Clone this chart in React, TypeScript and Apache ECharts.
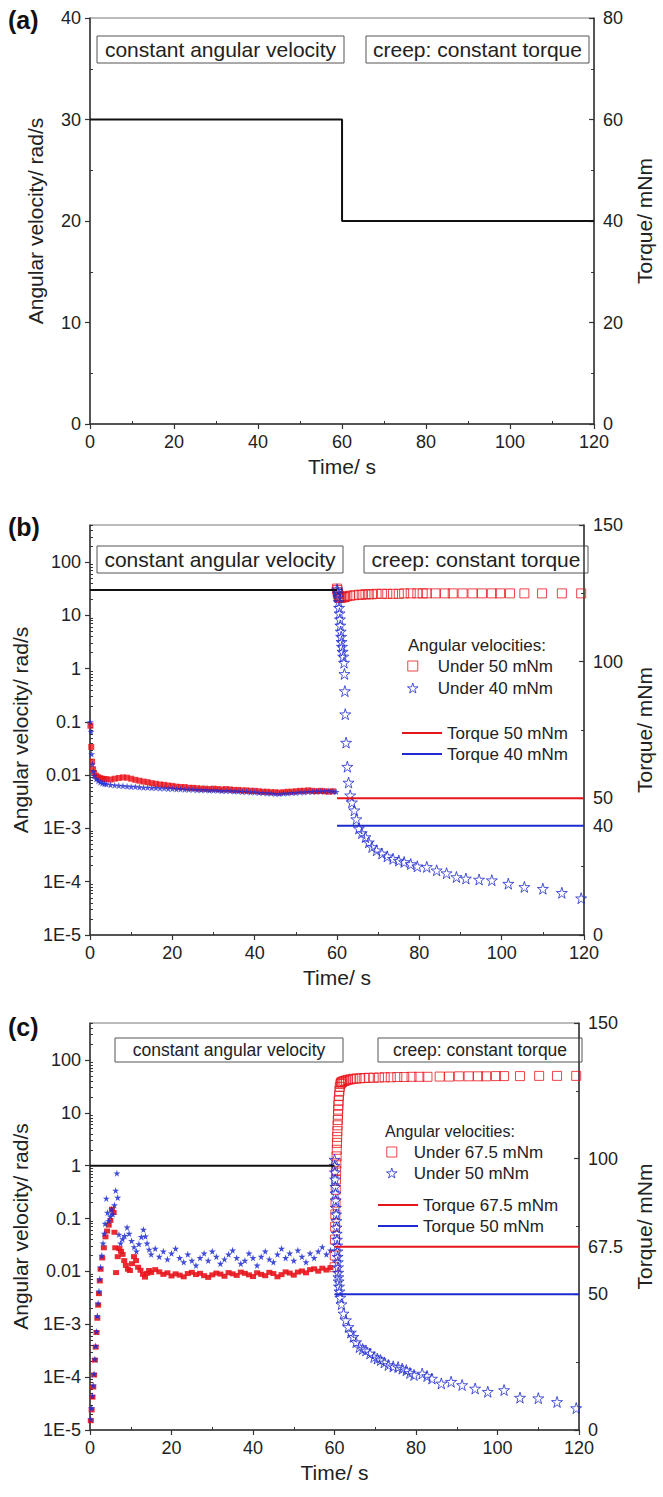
import React, { useEffect, useRef } from 'react';
import * as echarts from 'echarts';

const FONT = '"Liberation Sans", Arial, sans-serif';
const RED = '#e8141c';
const BLUE = '#1f2bd1';
const INK = '#222';
const STAR = 'path://M50,0L61,35L98,35L68,57L79,91L50,70L21,91L32,57L2,35L39,35Z';
const SQUARE = 'path://M0,0L10,0L10,10L0,10Z';

// ---------- Panel (a) ----------
const stepA: [number, number][] = [[0, 30], [60, 30], [60, 20], [120, 20]];

// ---------- Panel (b) ----------
const velocityLineB: [number, number][] = [[0, 30], [60, 30]];
const torque50B: [number, number][] = [[60, 50], [120, 50]];
const torque40B: [number, number][] = [[60, 40], [120, 40]];
const phase1RedB: [number, number][] = [
  [0.1, 0.085], [0.3, 0.034], [0.5, 0.018], [0.75, 0.013], [1, 0.011], [1.5, 0.0098], [2, 0.0092], [2.5, 0.0088],
  [3, 0.0086], [3.5, 0.0085], [4, 0.0084], [5, 0.0083], [6, 0.0086], [7, 0.0089], [8, 0.0091], [9, 0.009],
  [10, 0.0086], [11, 0.0082], [12, 0.0079], [13, 0.0076], [14, 0.0074], [15, 0.0071], [16, 0.0069], [17, 0.0067],
  [18, 0.0066], [19, 0.0064], [20, 0.0063], [21, 0.0061], [22, 0.006], [23, 0.006], [24, 0.0058], [25, 0.0058],
  [26, 0.0057], [27, 0.0056], [28, 0.0056], [29, 0.0055], [30, 0.0056], [31, 0.0055], [32, 0.0054], [33, 0.0055],
  [34, 0.0054], [35, 0.0053], [36, 0.0053], [37, 0.0052], [38, 0.0052], [39, 0.0051], [40, 0.0051], [41, 0.005],
  [42, 0.0049], [43, 0.0049], [44, 0.0048], [45, 0.0048], [46, 0.0047], [47, 0.0048], [48, 0.0049], [49, 0.0049],
  [50, 0.005], [51, 0.0051], [52, 0.0051], [53, 0.0052], [54, 0.0051], [55, 0.005], [56, 0.0051], [57, 0.005],
  [58, 0.0049], [59, 0.005],
];
const phase1BlueB: [number, number][] = [
  [0.1, 0.1], [0.25, 0.066], [0.4, 0.025], [0.6, 0.016], [0.8, 0.012], [1, 0.0098], [1.5, 0.0085], [2, 0.0078],
  [2.5, 0.0074], [3, 0.0071], [3.5, 0.0069], [4, 0.0068], [5, 0.0066], [6, 0.0065], [7, 0.0064], [8, 0.0063],
  [9, 0.0062], [10, 0.0061], [11, 0.0061], [12, 0.006], [13, 0.0059], [14, 0.0059], [15, 0.0058], [16, 0.0058],
  [17, 0.0057], [18, 0.0057], [19, 0.0056], [20, 0.0056], [21, 0.0055], [22, 0.0055], [23, 0.0054], [24, 0.0054],
  [25, 0.0054], [26, 0.0053], [27, 0.0053], [28, 0.0053], [29, 0.0052], [30, 0.0052], [31, 0.0052], [32, 0.0051],
  [33, 0.0051], [34, 0.0051], [35, 0.005], [36, 0.005], [37, 0.0049], [38, 0.0049], [39, 0.0048], [40, 0.0048],
  [41, 0.0047], [42, 0.0047], [43, 0.0046], [44, 0.0046], [45, 0.0045], [46, 0.0045], [47, 0.0046], [48, 0.0046],
  [49, 0.0047], [50, 0.0047], [51, 0.0048], [52, 0.0048], [53, 0.0049], [54, 0.0049], [55, 0.005], [56, 0.005],
  [57, 0.005], [58, 0.0051], [59, 0.005], [59.8, 0.0049],
];
const creepRedB: [number, number][] = [
  [60.0, 32], [60.1, 30], [60.2, 27], [60.3, 25], [60.4, 23], [60.5, 22], [60.7, 21.5], [61.0, 21.5], [61.35, 22],
  [61.7, 22], [62.0, 22.5], [62.5, 23], [63.2, 23.5], [64.2, 24], [65.3, 24.5], [66.0, 24.5], [66.9, 25], [67.7, 25],
  [68.5, 25], [69.6, 25.5], [70.9, 25.5], [72.2, 25.5], [73.6, 25.5], [75.0, 25.5], [76.3, 26], [77.9, 26], [79.5, 26],
  [80.8, 26], [81.8, 26], [83.9, 26], [86.2, 26], [88.1, 26], [90.5, 26], [92.9, 26], [95.2, 26], [97.6, 26],
  [99.6, 26], [102.0, 26], [105.5, 26], [109.8, 26], [114.6, 26], [119.3, 26],
];
const creepBlueB: [number, number][] = [
  [60.0, 31], [60.1, 29], [60.2, 26], [60.3, 22], [60.4, 18], [60.5, 14], [60.6, 11], [60.7, 8.5], [60.8, 6.5],
  [60.9, 5], [61.0, 4], [61.1, 3.2], [61.2, 2.6], [61.35, 2.1], [61.5, 1.7], [61.7, 1.3], [61.8, 0.8], [61.9, 0.38],
  [62.0, 0.14], [62.2, 0.041], [62.5, 0.0145], [62.8, 0.0073], [63.2, 0.0042], [63.6, 0.0031], [64.2, 0.0022],
  [64.7, 0.0015], [65.3, 0.001], [66.0, 8.2e-4], [66.9, 6.9e-4], [67.7, 5.5e-4], [68.5, 4.5e-4], [69.6, 3.9e-4],
  [70.9, 3.4e-4], [72.2, 3.0e-4], [73.6, 2.7e-4], [75.0, 2.5e-4], [76.3, 2.35e-4], [77.9, 2.15e-4], [79.5, 1.95e-4],
  [81.8, 1.9e-4], [84.2, 1.64e-4], [86.6, 1.45e-4], [89.0, 1.23e-4], [91.3, 1.15e-4], [94.5, 1.1e-4], [97.6, 1.07e-4],
  [101.6, 9.2e-5], [105.5, 8.0e-5], [110.0, 7.4e-5], [114.6, 6.2e-5], [119.3, 4.9e-5],
];

// ---------- Panel (c) ----------
const velocityLineC: [number, number][] = [[0, 1], [60, 1]];
const torque675C: [number, number][] = [[60, 67.5], [120, 67.5]];
const torque50C: [number, number][] = [[60, 50], [120, 50]];
const phase1RedC: [number, number][] = [
  [0.2, 1.5e-5], [0.4, 2.4e-5], [0.6, 4.2e-5], [0.8, 6.5e-5], [1.0, 1.1e-4], [1.2, 2.1e-4], [1.4, 3.7e-4], [1.6, 7.0e-4],
  [1.8, 1.3e-3], [2.0, 2.3e-3], [2.2, 3.8e-3], [2.4, 6.6e-3], [2.6, 0.011], [3.0, 0.018], [3.4, 0.028], [3.8, 0.045],
  [4.2, 0.058], [4.6, 0.075], [5.0, 0.092], [5.4, 0.15], [5.8, 0.13], [6.0, 0.055], [6.2, 0.028], [6.4, 0.0095],
  [6.8, 0.019], [7.2, 0.027], [7.6, 0.024], [8.0, 0.021], [8.4, 0.016], [8.8, 0.013], [9.3, 0.011], [9.8, 0.0104],
  [10.3, 0.014], [10.8, 0.019], [11.3, 0.016], [11.8, 0.012], [12.4, 0.0105], [13.0, 0.0088], [13.5, 0.0078],
  [14.0, 0.0092], [14.5, 0.0104], [15, 0.0095], [16, 0.0108], [17, 0.0098], [18, 0.0088], [19, 0.0094], [20, 0.0082],
  [21, 0.009], [22, 0.0085], [23, 0.0079], [24, 0.0091], [25, 0.0096], [26, 0.0087], [27, 0.0092], [28, 0.0083],
  [29, 0.0077], [30, 0.0086], [31, 0.0093], [32, 0.0089], [33, 0.0081], [34, 0.0095], [35, 0.009], [36, 0.0084],
  [37, 0.0097], [38, 0.0092], [39, 0.0086], [40, 0.008], [41, 0.0094], [42, 0.0088], [43, 0.0083], [44, 0.0096],
  [45, 0.0091], [46, 0.0079], [47, 0.0087], [48, 0.0098], [49, 0.0093], [50, 0.0085], [51, 0.0097], [52, 0.0102],
  [53, 0.0094], [54, 0.0108], [55, 0.0112], [56, 0.0101], [57, 0.0115], [58, 0.0106], [59, 0.0118],
];
const phase1BlueC: [number, number][] = [
  [0.2, 1.6e-5], [0.4, 2.6e-5], [0.6, 4.4e-5], [0.8, 7e-5], [1.0, 1.15e-4], [1.2, 2.2e-4], [1.4, 3.9e-4], [1.6, 7.3e-4],
  [1.8, 1.45e-3], [2.0, 2.5e-3], [2.2, 4.2e-3], [2.4, 7.2e-3], [2.6, 0.012], [2.9, 0.02], [3.2, 0.034], [3.5, 0.052],
  [3.7, 0.08], [4.0, 0.24], [4.3, 0.13], [4.6, 0.09], [5.0, 0.11], [5.3, 0.15], [5.6, 0.12], [6.0, 0.18], [6.3, 0.34],
  [6.6, 0.72], [6.8, 0.25], [7.1, 0.05], [7.5, 0.034], [8.0, 0.041], [8.5, 0.047], [9.1, 0.068], [9.6, 0.052],
  [10.2, 0.038], [10.8, 0.029], [11.4, 0.024], [12.0, 0.033], [12.6, 0.045], [13.1, 0.062], [13.6, 0.046], [14.0, 0.034],
  [14.5, 0.026], [15, 0.021], [16, 0.027], [17, 0.019], [18, 0.024], [19, 0.017], [20, 0.022], [21, 0.027], [22, 0.018],
  [23, 0.015], [24, 0.021], [25, 0.016], [26, 0.013], [27, 0.018], [28, 0.022], [29, 0.016], [30, 0.024], [31, 0.019],
  [32, 0.014], [33, 0.017], [34, 0.021], [35, 0.025], [36, 0.018], [37, 0.014], [38, 0.016], [39, 0.022], [40, 0.018],
  [41, 0.013], [42, 0.019], [43, 0.024], [44, 0.017], [45, 0.015], [46, 0.021], [47, 0.027], [48, 0.018], [49, 0.022],
  [50, 0.016], [51, 0.025], [52, 0.019], [53, 0.015], [54, 0.022], [55, 0.018], [56, 0.024], [57, 0.029], [58, 0.021],
  [59, 0.025],
];
const creepRedC: [number, number][] = [
  [60.0, 0.012], [60.05, 0.02], [60.1, 0.04], [60.15, 0.07], [60.2, 0.12], [60.25, 0.2], [60.3, 0.35], [60.35, 0.55],
  [60.4, 0.8], [60.45, 1.1], [60.5, 1.5], [60.55, 2.0], [60.6, 2.7], [60.65, 3.5], [60.7, 4.5], [60.75, 5.8], [60.8, 7.3],
  [60.85, 9.2], [60.9, 11.5], [60.95, 14], [61.0, 17], [61.1, 21], [61.2, 26], [61.3, 31], [61.45, 35], [61.6, 37],
  [61.8, 38], [62.0, 39], [62.4, 40], [62.8, 41], [63.3, 42], [63.9, 43], [64.6, 44], [65.4, 44.5], [66.3, 45],
  [67.3, 45.5], [68.4, 46], [69.6, 46], [70.9, 46.5], [72.3, 47], [73.8, 47], [75.4, 47.5], [77.1, 47.5], [78.9, 48],
  [80.8, 48], [82.8, 48], [85.8, 48.5], [88.1, 48.5], [90.5, 49], [92.9, 49], [95.2, 49], [97.2, 49], [99.6, 49.5],
  [101.6, 49.5], [105.5, 49.5], [110.2, 50], [114.6, 50], [119.3, 50],
];
const creepBlueC: [number, number][] = [
  [60.0, 1.3], [60.05, 1.0], [60.1, 0.75], [60.15, 0.55], [60.2, 0.4], [60.25, 0.3], [60.3, 0.22], [60.35, 0.16],
  [60.4, 0.12], [60.45, 0.09], [60.5, 0.068], [60.55, 0.052], [60.6, 0.04], [60.65, 0.031], [60.7, 0.024], [60.75, 0.019],
  [60.8, 0.015], [60.85, 0.012], [60.9, 0.0095], [60.95, 0.0078], [61.0, 0.0065], [61.1, 0.0052], [61.2, 0.0042],
  [61.4, 0.0032], [61.7, 0.0024], [62.2, 0.0016], [62.8, 0.0012], [63.4, 8.9e-4], [64.0, 7e-4], [64.6, 5.8e-4],
  [65.3, 4.6e-4], [66.1, 3.7e-4], [66.9, 3.4e-4], [67.7, 3.2e-4], [68.7, 2.8e-4], [69.7, 2.4e-4], [70.5, 2.25e-4],
  [71.3, 2.1e-4], [72.2, 1.9e-4], [73.2, 1.7e-4], [74.4, 1.6e-4], [75.6, 1.55e-4], [76.6, 1.45e-4], [77.6, 1.35e-4],
  [78.5, 1.2e-4], [79.5, 1.1e-4], [81.5, 1.17e-4], [82.7, 1.05e-4], [83.9, 9.4e-5], [86.2, 7.6e-5], [88.6, 8.2e-5],
  [91.3, 7.1e-5], [94.5, 6.1e-5], [97.6, 5.3e-5], [101.6, 5.7e-5], [105.5, 4.1e-5], [110.0, 4.0e-5], [114.6, 3.4e-5],
  [119.3, 2.6e-5],
];

// ---------- Axis helpers ----------
const LOG_MIN = -5;
const LOG_MAX = Math.log10(500);
const LOG_MINOR: number[] = [];
for (let n = -5; n <= 2; n++) {
  for (let k = 2; k <= 9; k++) {
    const e = Math.log10(k * Math.pow(10, n));
    if (e <= LOG_MAX + 1e-9) LOG_MINOR.push(e);
  }
}
const toLog = (pts: [number, number][]) => pts.map(([t, v]) => [t, Math.log10(v)]);
const logLabel = (e: number) => {
  const r = Math.round(e);
  if (Math.abs(e - r) > 1e-6) return '';
  if (r >= 0) return String(Math.pow(10, r));
  if (r === -1) return '0.1';
  if (r === -2) return '0.01';
  return `1E${r}`;
};

const tickFont = { fontFamily: FONT, fontSize: 18, color: INK };
const nameFont = { fontFamily: FONT, fontSize: 21, color: INK };
const lineCol = { color: '#333', width: 1.5 };

const xAxisCfg = (gap: number) => ({
  type: 'value', min: 0, max: 120, interval: 20,
  name: 'Time/ s', nameLocation: 'middle', nameGap: gap, nameTextStyle: nameFont,
  axisLine: { show: true, onZero: false, lineStyle: lineCol },
  axisTick: { show: true, length: 5, lineStyle: { color: '#333', width: 1.2 } },
  minorTick: { show: true, splitNumber: 2, length: -3, lineStyle: { color: '#333', width: 1 } },
  axisLabel: { ...tickFont, margin: 9 },
  splitLine: { show: false }, minorSplitLine: { show: false },
});

const leftLinearAxis = (max: number, interval: number, gap: number) => ({
  type: 'value', position: 'left', min: 0, max, interval,
  name: 'Angular velocity/ rad/s', nameLocation: 'middle', nameGap: gap, nameTextStyle: nameFont,
  axisLine: { show: true, onZero: false, lineStyle: lineCol },
  axisTick: { show: true, length: 5, lineStyle: { color: '#333', width: 1.2 } },
  minorTick: { show: true, splitNumber: 2, length: -3, lineStyle: { color: '#333', width: 1 } },
  axisLabel: { ...tickFont, margin: 9 },
  splitLine: { show: false },
});

const leftLogAxis = (gap: number) => ({
  type: 'value', position: 'left', min: LOG_MIN, max: LOG_MAX, interval: 1,
  name: 'Angular velocity/ rad/s', nameLocation: 'middle', nameGap: gap, nameTextStyle: nameFont,
  axisLine: { show: true, onZero: false, lineStyle: lineCol },
  axisTick: { show: true, length: 5, lineStyle: { color: '#333', width: 1.2 } },
  axisLabel: { ...tickFont, margin: 9, showMaxLabel: false, formatter: (v: number) => logLabel(v) },
  splitLine: { show: false },
});

const leftLogMinorAxis = () => ({
  type: 'value', position: 'left', min: LOG_MIN, max: LOG_MAX,
  axisLine: { show: false, onZero: false }, axisLabel: { show: false }, splitLine: { show: false },
  axisTick: { show: true, inside: true, length: 3, customValues: LOG_MINOR, lineStyle: { color: '#333', width: 1 } },
});

const rightAxis = (max: number, interval: number, gap: number, labels?: number[]) => ({
  type: 'value', position: 'right', min: 0, max, interval,
  name: 'Torque/ mNm', nameLocation: 'middle', nameGap: gap, nameTextStyle: nameFont,
  axisLine: { show: true, onZero: false, lineStyle: lineCol },
  axisTick: { show: true, inside: true, length: 5, lineStyle: { color: '#333', width: 1.2 } },
  minorTick: { show: true, splitNumber: 2, length: 3, lineStyle: { color: '#333', width: 1 } },
  axisLabel: { ...tickFont, margin: 9, ...(labels ? { customValues: labels } : {}), formatter: (v: number) => String(v) },
  splitLine: { show: false },
});

const box = (x: number, y: number, w: number, h: number, text: string, fs: number) => ({
  type: 'group', x, y, children: [
    { type: 'rect', shape: { x: 0, y: 0, width: w, height: h }, style: { fill: '#fff', stroke: '#555', lineWidth: 1 } },
    { type: 'text', x: w / 2, y: h / 2, style: { text, fontFamily: FONT, fontSize: fs, fill: INK, align: 'center', verticalAlign: 'middle' } },
  ],
});
const panelLabel = (t: string, y: number) => ({
  type: 'text', x: 8, y, style: { text: t, fontFamily: FONT, fontSize: 25, fontWeight: 'bold', fill: '#111', align: 'left', verticalAlign: 'middle' },
});
const plainText = (t: string, x: number, y: number, fs: number) => ({
  type: 'text', x, y, style: { text: t, fontFamily: FONT, fontSize: fs, fill: INK, align: 'left', verticalAlign: 'middle' },
});

const gridBorder = { show: true, borderColor: '#777', borderWidth: 1, backgroundColor: 'transparent' };

const openItem = (c: string) => ({ color: 'rgba(255,255,255,0)', borderColor: c, borderWidth: 1 });

// ---------- Options ----------
const optionA = {
  animation: false,
  grid: { left: 90, top: 18, width: 508, height: 406, ...gridBorder },
  xAxis: xAxisCfg(32),
  yAxis: [leftLinearAxis(40, 10, 44), rightAxis(80, 20, 36)],
  graphic: [
    panelLabel('(a)', 20),
    box(97, 36, 247, 27, 'constant angular velocity', 21),
    box(366, 36, 223, 27, 'creep: constant torque', 21),
  ],
  series: [
    { type: 'line', data: stepA, yAxisIndex: 0, symbol: 'none', lineStyle: { color: '#111', width: 2 } },
  ],
};

const scatterLegend = (names: string[], colors: string[], icons: string[], left: number, top: number, itemWidth: number, gap: number) => ({
  orient: 'vertical', left, top, padding: 0, itemWidth, itemHeight: 10, itemGap: gap, selectedMode: false,
  symbolKeepAspect: true,
  textStyle: { fontFamily: FONT, fontSize: 17, color: INK, lineHeight: 20 },
  data: names.map((n, i) => ({ name: n, icon: icons[i], itemStyle: openItem(colors[i]) })),
});
const lineLegend = (names: string[], colors: string[], left: number, top: number, gap: number) => ({
  orient: 'vertical', left, top, padding: 0, itemWidth: 40, itemHeight: 2, itemGap: gap, selectedMode: false,
  textStyle: { fontFamily: FONT, fontSize: 17, color: INK, lineHeight: 20 },
  data: names.map((n, i) => ({ name: n, icon: 'rect', itemStyle: { color: colors[i], borderWidth: 0 } })),
});

const optionB = {
  animation: false,
  grid: { left: 90, top: 35, width: 508, height: 410, ...gridBorder },
  xAxis: xAxisCfg(32),
  yAxis: [leftLogAxis(59), rightAxis(150, 50, 36, [0, 40, 50, 100, 150]), leftLogMinorAxis()],
  legend: [
    scatterLegend(['Under 50 mNm', 'Under 40 mNm'], [RED, BLUE], [SQUARE, STAR], 407, 166, 40, 2),
    lineLegend(['Torque 50 mNm', 'Torque 40 mNm'], [RED, BLUE], 402, 233, 1),
  ],
  graphic: [
    panelLabel('(b)', 37),
    box(97, 56, 246, 27, 'constant angular velocity', 21),
    box(364, 56, 224, 27, 'creep: constant torque', 21),
    plainText('Angular velocities:', 408, 155, 17),
  ],
  series: [
    { type: 'line', data: toLog(velocityLineB), yAxisIndex: 0, symbol: 'none', lineStyle: { color: '#111', width: 2 } },
    { name: 'Torque 50 mNm', type: 'line', data: torque50B, yAxisIndex: 1, symbol: 'none', lineStyle: { color: RED, width: 2 }, itemStyle: { color: RED } },
    { name: 'Torque 40 mNm', type: 'line', data: torque40B, yAxisIndex: 1, symbol: 'none', lineStyle: { color: BLUE, width: 2 }, itemStyle: { color: BLUE } },
    { type: 'scatter', data: toLog(phase1RedB), yAxisIndex: 0, symbol: 'rect', symbolSize: 6, itemStyle: { color: RED } },
    { type: 'scatter', data: toLog(phase1BlueB), yAxisIndex: 0, symbol: STAR, symbolSize: 7, itemStyle: { color: BLUE } },
    { name: 'Under 50 mNm', type: 'scatter', data: toLog(creepRedB), yAxisIndex: 0, symbol: 'rect', symbolSize: 9, itemStyle: openItem(RED) },
    { name: 'Under 40 mNm', type: 'scatter', data: toLog(creepBlueB), yAxisIndex: 0, symbol: STAR, symbolSize: 11, itemStyle: openItem(BLUE) },
  ],
};

const optionC = {
  animation: false,
  grid: { left: 90, top: 28, width: 508, height: 407, ...gridBorder },
  xAxis: xAxisCfg(32),
  yAxis: [leftLogAxis(59), rightAxis(150, 50, 36, [0, 50, 67.5, 100, 150]), leftLogMinorAxis()],
  legend: [
    scatterLegend(['Under 67.5 mNm', 'Under 50 mNm'], [RED, BLUE], [SQUARE, STAR], 386, 147, 34, 1),
    lineLegend(['Torque 67.5 mNm', 'Torque 50 mNm'], [RED, BLUE], 378, 200, 1),
  ],
  graphic: [
    panelLabel('(c)', 32),
    box(115, 43, 228, 24, 'constant angular velocity', 17.5),
    box(378, 43, 204, 24, 'creep: constant torque', 17.5),
    plainText('Angular velocities:', 385, 136, 16),
  ],
  series: [
    { type: 'line', data: toLog(velocityLineC), yAxisIndex: 0, symbol: 'none', lineStyle: { color: '#111', width: 2 } },
    { name: 'Torque 67.5 mNm', type: 'line', data: torque675C, yAxisIndex: 1, symbol: 'none', lineStyle: { color: RED, width: 2 }, itemStyle: { color: RED } },
    { name: 'Torque 50 mNm', type: 'line', data: torque50C, yAxisIndex: 1, symbol: 'none', lineStyle: { color: BLUE, width: 2 }, itemStyle: { color: BLUE } },
    { type: 'scatter', data: toLog(phase1RedC), yAxisIndex: 0, symbol: 'rect', symbolSize: [6, 5], itemStyle: { color: RED, opacity: 0.9 } },
    { type: 'scatter', data: toLog(phase1BlueC), yAxisIndex: 0, symbol: STAR, symbolSize: 7, itemStyle: { color: BLUE, opacity: 0.85 } },
    { name: 'Under 67.5 mNm', type: 'scatter', data: toLog(creepRedC), yAxisIndex: 0, symbol: 'rect', symbolSize: 9, itemStyle: openItem(RED) },
    { name: 'Under 50 mNm', type: 'scatter', data: toLog(creepBlueC), yAxisIndex: 0, symbol: STAR, symbolSize: 11, itemStyle: openItem(BLUE) },
  ],
};

export default function App() {
  const refA = useRef<HTMLDivElement>(null);
  const refB = useRef<HTMLDivElement>(null);
  const refC = useRef<HTMLDivElement>(null);

  useEffect(() => {
    document.body.style.margin = '0';
    const pairs: [React.RefObject<HTMLDivElement>, any][] = [[refA, optionA], [refB, optionB], [refC, optionC]];
    const charts = pairs.map(([r, o]) => {
      const c = echarts.init(r.current as HTMLDivElement, null, { renderer: 'svg' });
      c.setOption(o);
      return c;
    });
    return () => charts.forEach((c) => c.dispose());
  }, []);

  return (
    <div style={{ position: 'relative', width: 663, height: 1497, background: '#fff' }}>
      <div ref={refA} style={{ position: 'absolute', left: 0, top: 0, width: 663, height: 490 }} />
      <div ref={refB} style={{ position: 'absolute', left: 0, top: 490, width: 663, height: 505 }} />
      <div ref={refC} style={{ position: 'absolute', left: 0, top: 995, width: 663, height: 502 }} />
    </div>
  );
}
